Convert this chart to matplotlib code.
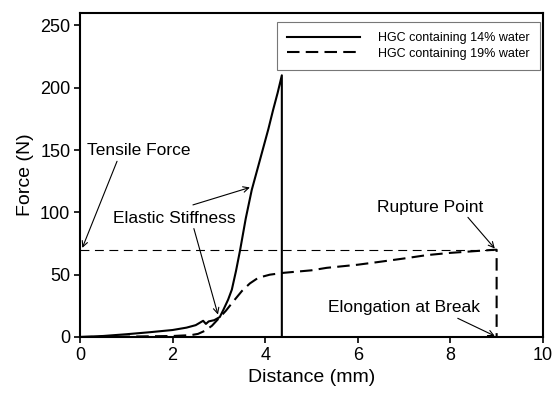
import matplotlib
matplotlib.use("Agg")
import matplotlib.pyplot as plt

plt.rcParams['font.family'] = ['Liberation Sans', 'DejaVu Sans']

# Series: HGC containing 14% water (solid)
x14 = [0, 0.5, 1.0, 1.5, 2.0, 2.3, 2.5, 2.66, 2.72, 2.78, 2.9, 3.02, 3.10, 3.2, 3.28,
       3.37, 3.46, 3.58, 3.71, 3.85, 3.96, 4.07, 4.17, 4.27, 4.36, 4.36]
y14 = [0, 0.8, 2.2, 3.8, 5.6, 7.5, 9.5, 13, 10.5, 12.5, 13.5, 16, 22, 30, 38,
       53, 70, 95, 118, 137, 152, 167, 182, 196, 210, 0]

# Series: HGC containing 19% water (dashed)
x19 = [0, 1.0, 2.0, 2.4, 2.55, 2.7, 2.85, 3.0, 3.15, 3.3, 3.5, 3.67, 3.85, 4.1,
       4.4, 5.0, 5.33, 6.0, 6.41, 7.0, 7.49, 8.0, 8.57, 8.95, 9.0, 9.0]
y19 = [0, 0.3, 0.8, 1.5, 2.5, 5, 9, 15, 21, 28, 37, 43, 47.5, 50,
       51.5, 53.5, 55.5, 58, 60, 63, 65.7, 67.5, 69, 70, 70, 0]

tensile_force = 70
break_distance = 9.0

labels = ['HGC containing 14% water', 'HGC containing 19% water']
xticks = [0, 2, 4, 6, 8, 10]
yticks = [0, 50, 100, 150, 200, 250]

fig = plt.figure(figsize=(5.54, 3.94), dpi=100)
ax = fig.add_axes([0.1444, 0.1447, 0.8356, 0.8223])

ax.plot(x14, y14, color='black', lw=1.5, label=labels[0])
ax.plot(x19, y19, color='black', lw=1.5, dashes=(6, 3), label=labels[1])
ax.plot([0, break_distance], [tensile_force, tensile_force], color='black',
        lw=0.8, dashes=(8, 5))

ax.set_xlim(0, 10)
ax.set_ylim(0, 260)
ax.set_xticks(xticks)
ax.set_yticks(yticks)
ax.tick_params(direction='out', length=4, width=1.2, labelsize=13, pad=3,
               top=False, right=False)
for s in ax.spines.values():
    s.set_linewidth(1.5)

ax.set_xlabel('Distance (mm)', fontsize=14, labelpad=4)
ax.set_ylabel('Force (N)', fontsize=14, labelpad=4)

arrow = dict(arrowstyle='->', color='black', lw=0.8, shrinkA=0, shrinkB=0)
fs = 12.5
ax.text(0.15, 150, 'Tensile Force', fontsize=fs, va='center', ha='left')
ax.annotate('', xy=(0.05, 71.5), xytext=(0.8, 141), arrowprops=arrow)

ax.text(0.71, 95, 'Elastic Stiffness', fontsize=fs, va='center', ha='left')
ax.annotate('', xy=(3.67, 120), xytext=(2.44, 106), arrowprops=arrow)
ax.annotate('', xy=(2.98, 18), xytext=(2.46, 87), arrowprops=arrow)

ax.text(6.41, 104, 'Rupture Point', fontsize=fs, va='center', ha='left')
ax.annotate('', xy=(8.96, 71), xytext=(8.38, 96), arrowprops=arrow)

ax.text(5.36, 24, 'Elongation at Break', fontsize=fs, va='center', ha='left')
ax.annotate('', xy=(8.96, 0.8), xytext=(8.16, 15), arrowprops=arrow)

leg = ax.legend(loc='upper right', bbox_to_anchor=(0.9935, 0.972), borderaxespad=0,
                fontsize=9, handlelength=5.84, handletextpad=1.44, fancybox=False,
                frameon=True, borderpad=0.8, labelspacing=0.3)
leg.get_frame().set_edgecolor('#555555')
leg.get_frame().set_linewidth(0.8)

fig.savefig('out.png', dpi=100)
